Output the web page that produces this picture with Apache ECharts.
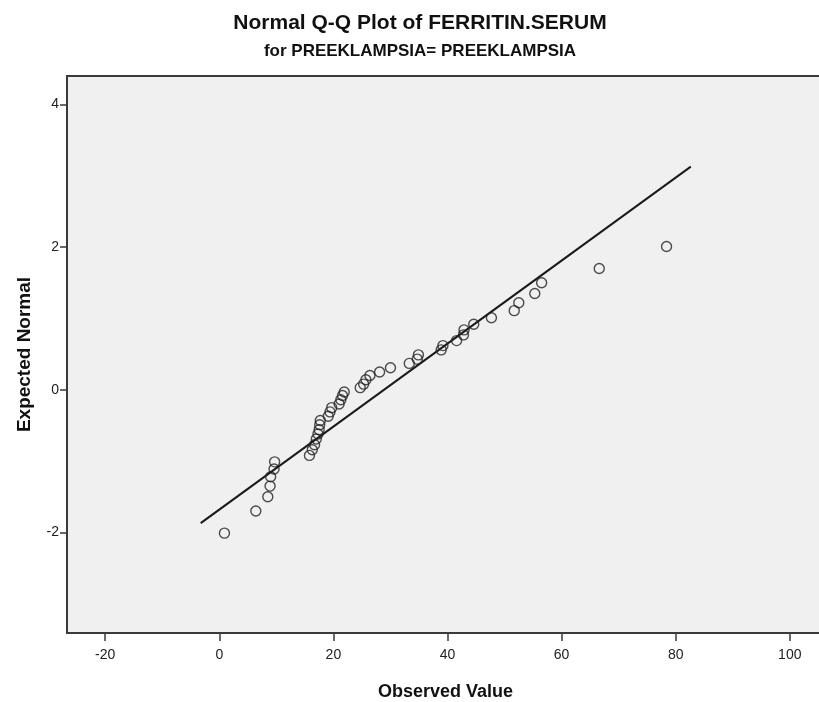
<!DOCTYPE html>
<html>
<head>
<meta charset="utf-8">
<script src="https://cdn.jsdelivr.net/npm/echarts@6/dist/echarts.min.js"></script>
<style>
  html, body { margin: 0; padding: 0; background: #ffffff; }
  #chart { width: 819px; height: 702px; }
</style>
</head>
<body>
<div id="chart"></div>
<script>
// Observed ferritin values (sorted) and their expected normal scores
const observedValues = [
  0.9, 6.4, 8.5, 8.9, 9.0, 9.6, 9.7, 15.8, 16.3, 16.7, 17.0,
  17.3, 17.5, 17.6, 17.7, 19.1, 19.4, 19.7, 21.0, 21.3, 21.6, 21.9,
  24.7, 25.3, 25.7, 26.4, 28.1, 30.0, 33.3, 34.7, 34.9, 38.9, 39.2,
  41.6, 42.8, 42.9, 44.6, 47.7, 51.7, 52.5, 55.3, 56.5, 66.6, 78.4
];
const expectedNormal = [
  -2.01, -1.70, -1.50, -1.35, -1.22, -1.11, -1.01, -0.92, -0.84, -0.77, -0.69,
  -0.62, -0.56, -0.49, -0.43, -0.37, -0.31, -0.25, -0.20, -0.14, -0.08, -0.03,
  0.03, 0.08, 0.14, 0.20, 0.25, 0.31, 0.37, 0.43, 0.49, 0.56, 0.62,
  0.69, 0.77, 0.84, 0.92, 1.01, 1.11, 1.22, 1.35, 1.50, 1.70, 2.01
];

// Reference line end points [observed, expected]
const refLineStart = [-3.26, -1.87];
const refLineEnd = [82.65, 3.13];

// Tick positions
const xTicks = [-20, 0, 20, 40, 60, 80, 100];
const yTicks = [-2, 0, 2, 4];

const titleText = 'Normal Q-Q Plot of FERRITIN.SERUM';
const subtitleText = 'for PREEKLAMPSIA= PREEKLAMPSIA';

const points = observedValues.map((v, i) => [v, expectedNormal[i]]);
const font = '"Liberation Sans", Arial, sans-serif';

const chart = echarts.init(document.getElementById('chart'), null, { renderer: 'canvas' });
chart.setOption({
  backgroundColor: '#ffffff',
  animation: false,
  title: [
    {
      text: titleText,
      left: 415, top: 8, textAlign: 'center',
      textStyle: { fontFamily: font, fontSize: 21, fontWeight: 'bold', color: '#111' }
    },
    {
      text: subtitleText,
      left: 415, top: 38, textAlign: 'center',
      textStyle: { fontFamily: font, fontSize: 17, fontWeight: 'bold', color: '#111' }
    }
  ],
  grid: {
    left: 67, top: 76, width: 757, height: 557,
    outerBoundsMode: 'none',
    containLabel: false,
    show: true, backgroundColor: '#f0f0f0',
    borderColor: '#3a3a3a', borderWidth: 2
  },
  xAxis: {
    type: 'value', min: -26.7, max: 106,
    name: 'Observed Value', nameLocation: 'middle', nameGap: 50,
    nameTextStyle: { fontFamily: font, fontSize: 18, fontWeight: 'bold', color: '#111' },
    axisLine: { show: true, onZero: false, lineStyle: { color: '#3a3a3a', width: 2 } },
    axisTick: { show: true, length: 8, customValues: xTicks, lineStyle: { color: '#3a3a3a', width: 1.5 } },
    axisLabel: { customValues: xTicks, margin: 15, fontFamily: font, fontSize: 14, color: '#222' },
    splitLine: { show: false }
  },
  yAxis: {
    type: 'value', min: -3.41, max: 4.40,
    name: 'Expected Normal', nameLocation: 'middle', nameGap: 33, nameRotate: 90,
    nameTextStyle: { fontFamily: font, fontSize: 19, fontWeight: 'bold', color: '#111' },
    axisLine: { show: true, onZero: false, lineStyle: { color: '#3a3a3a', width: 2 } },
    axisTick: { show: true, length: 7, customValues: yTicks, lineStyle: { color: '#3a3a3a', width: 1.5 } },
    axisLabel: { customValues: yTicks, margin: 8, fontFamily: font, fontSize: 14, color: '#222' },
    splitLine: { show: false }
  },
  series: [
    {
      type: 'line',
      data: [refLineStart, refLineEnd],
      symbol: 'none',
      lineStyle: { color: '#1a1a1a', width: 2 },
      silent: true,
      z: 2
    },
    {
      type: 'scatter',
      data: points,
      symbol: 'circle',
      symbolSize: 10,
      itemStyle: { color: 'rgba(0,0,0,0)', borderColor: '#222', borderWidth: 1.4 },
      z: 3
    }
  ]
});
</script>
</body>
</html>
